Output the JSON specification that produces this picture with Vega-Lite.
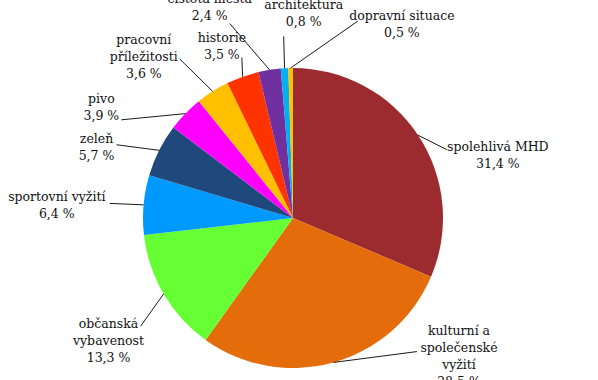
{
  "$schema": "https://vega.github.io/schema/vega-lite/v6.json",
  "width": 586,
  "height": 436,
  "padding": 0,
  "autosize": {"type": "none"},
  "background": "white",
  "config": {"view": {"stroke": null}},
  "data": {
    "values": [
      {"ord": 0, "name": "spolehlivá MHD", "share": 31.4},
      {"ord": 1, "name": "kulturní a\nspolečenské\nvyžití", "share": 28.5},
      {"ord": 2, "name": "občanská\nvybavenost", "share": 13.3},
      {"ord": 3, "name": "sportovní vyžití", "share": 6.4},
      {"ord": 4, "name": "zeleň", "share": 5.7},
      {"ord": 5, "name": "pivo", "share": 3.9},
      {"ord": 6, "name": "pracovní\npříležitosti", "share": 3.6},
      {"ord": 7, "name": "historie", "share": 3.5},
      {"ord": 8, "name": "čistota města", "share": 2.4},
      {"ord": 9, "name": "architektura", "share": 0.8},
      {"ord": 10, "name": "dopravní situace", "share": 0.5}
    ]
  },
  "transform": [
    {"joinaggregate": [{"op": "sum", "field": "share", "as": "total"}]},
    {"window": [{"op": "sum", "field": "share", "as": "cum"}], "sort": [{"field": "ord"}]},
    {"calculate": "(datum.cum - datum.share / 2) / datum.total * 2 * PI", "as": "mid"},
    {"calculate": "150 * sin(datum.mid)", "as": "ex"},
    {"calculate": "150 * cos(datum.mid)", "as": "ey"},
    {"calculate": "200 * sin(datum.mid) + [38,112,-12,-37,-18,-48,-42,-4,-52,22,112][datum.ord]", "as": "tx"},
    {"calculate": "200 * cos(datum.mid) - [48,-54,22,5,20,29,8,17,-13,-5,6][datum.ord]", "as": "ty"},
    {"calculate": "datum.tx + [-51,-42,32,53,20,20,36,20,20,-20,-44][datum.ord]", "as": "ax"},
    {"calculate": "datum.ty - [-6,-5,-15,-2,-3,12,2,11,16,23,-3][datum.ord]", "as": "ay"},
    {"calculate": "datum.name + '\\n' + replace(format(datum.share, '.1f'), '.', ',') + ' %'", "as": "label"},
    {"calculate": "datum.ty + (length(split(datum.label, '\\n')) - 1) * 8.5", "as": "tyt"}
  ],
  "layer": [
    {
      "mark": {"type": "arc", "outerRadius": 150, "strokeWidth": 0},
      "encoding": {
        "theta": {"field": "share", "type": "quantitative", "stack": true},
        "order": {"field": "ord", "type": "quantitative"},
        "color": {
          "field": "name",
          "type": "nominal",
          "scale": {
            "domain": ["spolehlivá MHD", "kulturní a\nspolečenské\nvyžití", "občanská\nvybavenost", "sportovní vyžití", "zeleň", "pivo", "pracovní\npříležitosti", "historie", "čistota města", "architektura", "dopravní situace"],
            "range": ["#9B2B2F", "#E46C0A", "#66FF33", "#0099FF", "#1F497D", "#FF00FF", "#FFC000", "#FF3300", "#7030A0", "#00B0F0", "#FFC000"]
          },
          "legend": null
        }
      }
    },
    {
      "mark": {"type": "rule", "color": "#000000", "strokeWidth": 0.9},
      "encoding": {
        "x": {"field": "ex", "type": "quantitative", "scale": {"domain": [-293, 293], "nice": false, "zero": false}, "axis": null},
        "y": {"field": "ey", "type": "quantitative", "scale": {"domain": [-218, 218], "nice": false, "zero": false}, "axis": null},
        "x2": {"field": "ax"},
        "y2": {"field": "ay"}
      }
    },
    {
      "mark": {"type": "text", "font": "DejaVu Serif", "fontSize": 12.5, "lineHeight": 17, "lineBreak": "\n", "align": "center", "baseline": "middle", "color": "#111111"},
      "encoding": {
        "x": {"field": "tx", "type": "quantitative", "scale": {"domain": [-293, 293], "nice": false, "zero": false}, "axis": null},
        "y": {"field": "tyt", "type": "quantitative", "scale": {"domain": [-218, 218], "nice": false, "zero": false}, "axis": null},
        "text": {"field": "label", "type": "nominal"}
      }
    }
  ]
}
